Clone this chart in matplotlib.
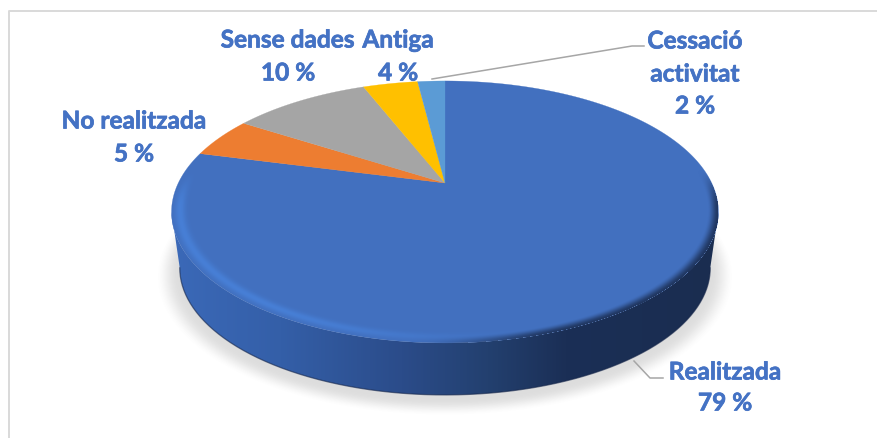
#!/usr/bin/env python3
"""Perspective pie chart with a bevelled side, drawn in pixel coordinates."""

import matplotlib

matplotlib.use("Agg")
import matplotlib.patheffects as pe  # noqa: E402
import matplotlib.pyplot as plt  # noqa: E402
import numpy as np  # noqa: E402
from matplotlib.colors import LinearSegmentedColormap  # noqa: E402
from matplotlib.patches import Polygon  # noqa: E402

W, H = 877, 439

labels = ["Realitzada", "No realitzada", "Sense dades", "Antiga", "Cessació\nactivitat"]
values = [79, 5, 10, 4, 2]
colors = ["#4270BF", "#ED7D31", "#A5A5A5", "#FFC000", "#5B9BD5"]

TEXT = "#4472C4"
LEADER = "#A6A6A6"
BORDER = "#D9D9D9"

# pie geometry: circle seen in perspective, apex is the circle centre
CX, CY = 445.0, 184.0
K = 0.221
A = 266.7
B = 124.6
SIDE_SCALE = 0.97
SIDE_DROP = 56.8

plt.rcParams["font.family"] = ["Lato", "DejaVu Sans"]


def project(theta, radius=1.0, scale=1.0, drop=0.0):
    # theta clockwise from the top
    u = radius * np.sin(theta)
    v = radius * np.cos(theta)
    d = 1 + K * v
    return CX + scale * A * u / d, CY + drop - scale * B * v / d


def radius_field(xx, yy, scale=1.0, drop=0.0):
    dx = (xx - CX) / scale
    dy = (CY + drop - yy) / scale
    den = B - K * dy
    den = np.where(np.abs(den) < 1, 1, den)
    v = dy / den
    u = dx * (1 + K * v) / A
    r = np.sqrt(u**2 + v**2)
    return np.where(B - K * dy > 0, r, 9.0), v


def smooth(a, b, x):
    t = np.clip((x - a) / (b - a), 0, 1)
    return t * t * (3 - 2 * t)


fig = plt.figure(figsize=(W / 100, H / 100), dpi=100, facecolor="white")
ax = fig.add_axes([0, 0, 1, 1])
ax.set_xlim(0, W)
ax.set_ylim(H, 0)
ax.axis("off")

xx, yy = np.meshgrid(np.arange(W) + 0.5, np.arange(H) + 0.5)
extent = (0, W, H, 0)

# soft shadow under the disc
r_shadow, _ = radius_field(xx, yy, scale=1.0, drop=SIDE_DROP + 5)
shadow = np.zeros((H, W, 4))
shadow[..., :3] = 0.35
shadow[..., 3] = 0.2 * (1 - smooth(0.975, 1.055, r_shadow))
ax.imshow(shadow, extent=extent, zorder=1, aspect="auto", interpolation="bilinear")
ax.set_xlim(0, W)
ax.set_ylim(H, 0)

# side band, horizontal gradient clipped to the silhouette
edge_t = np.arccos(-K)
front = np.linspace(-edge_t, edge_t - 2 * np.pi, 240)
low_x, low_y = project(front, scale=SIDE_SCALE, drop=SIDE_DROP)
if low_x[0] > low_x[-1]:
    low_x, low_y = low_x[::-1], low_y[::-1]
back = np.linspace(edge_t, 2 * np.pi - edge_t, 240)
top_x, top_y = project(back)
outline = np.column_stack([np.r_[low_x, top_x], np.r_[low_y, top_y]])
side_map = LinearSegmentedColormap.from_list(
    "side",
    [
        (0.0, "#3B69B8"),
        (0.2, "#345FA8"),
        (0.42, "#2B4C8A"),
        (0.58, "#23406F"),
        (0.72, "#1B2F56"),
        (1.0, "#1A2D50"),
    ],
)
grad = np.linspace(0, 1, 256).reshape(1, -1)
band = ax.imshow(
    grad, extent=(171, 719, H, 0), cmap=side_map, zorder=2, aspect="auto", vmin=0, vmax=1
)
silhouette = Polygon(outline, closed=True, transform=ax.transData, fc="none", ec="none")
ax.add_patch(silhouette)
band.set_clip_path(silhouette)
ax.plot(low_x, low_y, color="#16264A", lw=0.9, alpha=0.6, zorder=2.5)
ax.set_xlim(0, W)
ax.set_ylim(H, 0)

# top face wedges, clockwise from twelve o'clock
fractions = np.cumsum([0] + values) / sum(values)
for i, colour in enumerate(colors):
    t = np.linspace(fractions[i], fractions[i + 1], 300) * 2 * np.pi
    px, py = project(t)
    ax.fill(np.r_[CX, px], np.r_[CY, py], color=colour, lw=0.2, zorder=3)

# bevel: bright rim on the left of the front, dark blur on the right
r_top, v_top = radius_field(xx, yy)
front_mask = 1 - smooth(-0.2, 0.12, v_top)
pos = (xx - 171) / 547
inside = r_top <= 1.0
glow = np.exp(-(((r_top - 0.97) / 0.018) ** 2)) * front_mask * (1 - smooth(0.15, 0.72, pos))
dark = smooth(0.962, 1.0, r_top) * front_mask * smooth(0.42, 0.72, pos)
rim = np.zeros((H, W, 4))
rim[..., 0] = (0.29 * glow + 0.11 * dark) / np.maximum(glow + dark, 1e-6)
rim[..., 1] = (0.52 * glow + 0.19 * dark) / np.maximum(glow + dark, 1e-6)
rim[..., 2] = (0.87 * glow + 0.34 * dark) / np.maximum(glow + dark, 1e-6)
rim[..., 3] = np.clip(0.75 * glow + 0.9 * dark, 0, 1) * inside
ax.imshow(rim, extent=extent, zorder=4, aspect="auto", interpolation="bilinear")
ax.set_xlim(0, W)
ax.set_ylim(H, 0)

# leader lines
ax.plot([432, 632, 644], [80, 47, 47], color=LEADER, lw=1.1, zorder=5)
ax.plot([634, 650, 663], [362, 379, 379], color=LEADER, lw=1.1, zorder=5)

# data labels, the thin stroke brings Lato up to the weight of the original
label_style = {
    "color": TEXT,
    "fontweight": "bold",
    "fontsize": 17.6,
    "ha": "center",
    "va": "center",
    "zorder": 6,
    "path_effects": [pe.withStroke(linewidth=0.5, foreground=TEXT)],
}
ax.text(725, 373, labels[0], **label_style)
ax.text(725, 404, f"{values[0]} %", **label_style)
ax.text(134, 122, labels[1], **label_style)
ax.text(134, 155, f"{values[1]} %", **label_style)
ax.text(287.5, 41, labels[2], **label_style)
ax.text(288, 74, f"{values[2]} %", **label_style)
ax.text(398, 41, labels[3], **label_style)
ax.text(398, 74, f"{values[3]} %", **label_style)
ax.text(695, 42, labels[4].split("\n")[0], **label_style)
ax.text(695, 75, labels[4].split("\n")[1], **label_style)
ax.text(695, 107, f"{values[4]} %", **label_style)

# chart frame, only the top and left edges are in the crop
ax.plot([8.5, 8.5, W], [H, 11.5, 11.5], color=BORDER, lw=1.4, zorder=5)

fig.savefig("out.png", dpi=100)
